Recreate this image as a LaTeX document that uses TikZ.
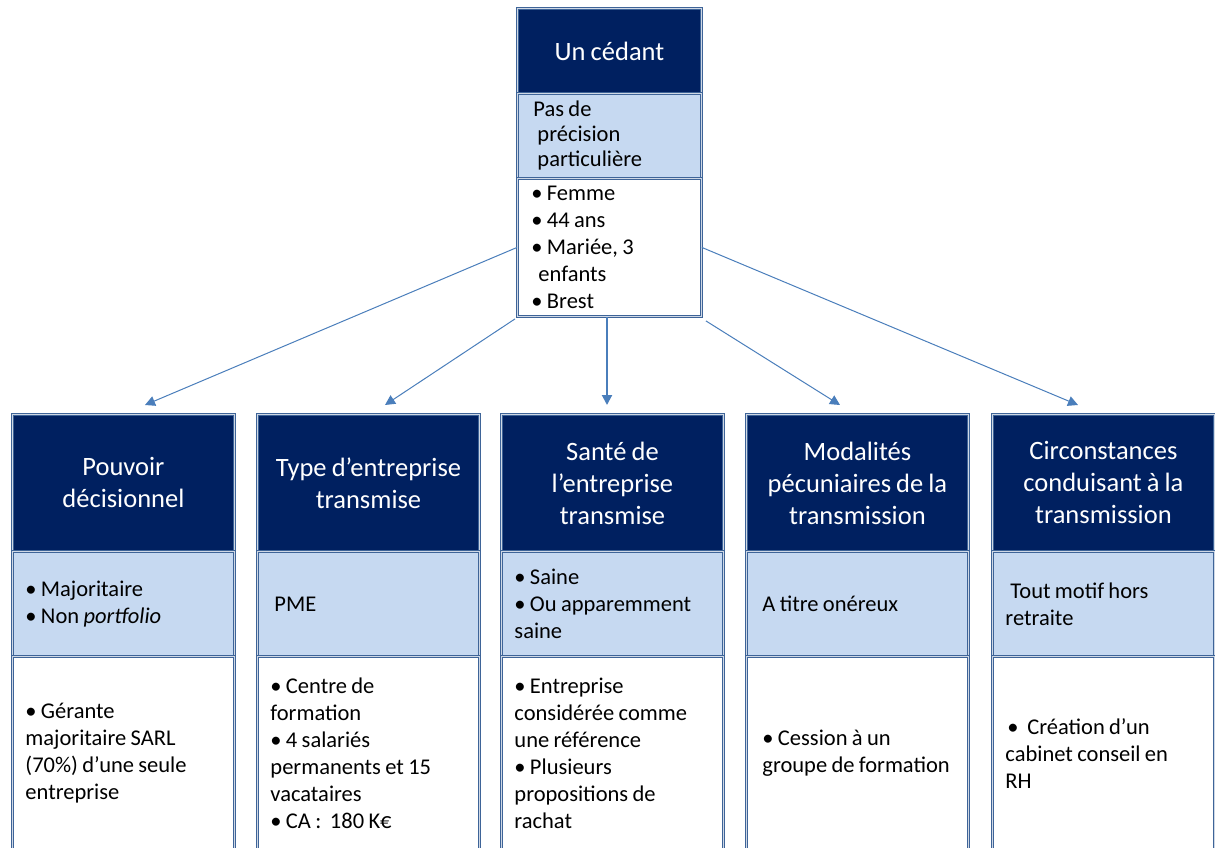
\documentclass[tikz,border=0pt]{standalone}
\usepackage{fontspec}
\setmainfont{Carlito}[WordSpace=0.85]
\usetikzlibrary{arrows.meta}
\definecolor{navy}{HTML}{002060}
\definecolor{paleblue}{HTML}{C6D9F1}
\definecolor{rimblue}{HTML}{3E6498}
\definecolor{linkblue}{HTML}{4A7EBB}
\newcommand{\headsize}{\fontsize{26.5}{32}\selectfont}
\newcommand{\bodysize}{\fontsize{22.5}{27}\selectfont}
\tikzset{
	cell/.style={draw=rimblue, line width=0.9pt, double=white!75!rimblue, double distance=1.2pt, anchor=north west, inner sep=0pt, execute at begin node={\spaceskip=0pt\relax}},
	headcell/.style={cell, fill=navy, text=white, font=\headsize, align=center, minimum width=222pt},
	critcell/.style={cell, fill=paleblue, font=\bodysize, align=left, minimum width=222pt, minimum height=105pt, text width=196pt},
	casecell/.style={cell, fill=white, font=\bodysize, align=left, minimum width=222pt, minimum height=194pt, text width=196pt},
	link/.style={draw=linkblue, line width=1pt, -{Triangle[length=10pt,width=10pt]}}
}
\begin{document}
\begin{tikzpicture}[x=1pt,y=-1pt]
		\useasboundingbox (0,0) rectangle (1215,848);
		\clip (0,0) rectangle (1215,848);
		
		% le cedant
		\node[headcell, minimum width=184pt, minimum height=85pt] (cedHead) at (517,8) {Un cédant};
		\node[critcell, minimum width=184pt, minimum height=85pt, text width=152pt, font=\fontsize{22.5}{25}\selectfont] (cedCrit) at (517,93) {Pas de\\ \hspace{4pt}précision\\ \hspace{4pt}particulière};
		\node[casecell, minimum width=184pt, minimum height=138pt, text width=156pt] (cedCase) at (517,178) {\textbullet{} Femme\\ \textbullet{} 44 ans\\ \textbullet{} Mariée, 3\\ \hspace{7pt}enfants\\ \textbullet{} Brest};
		
		% colonnes
		\node[headcell, minimum height=137pt] (powHead) at (12,414) {Pouvoir\\ décisionnel};
		\node[critcell] (powCrit) at (12,551) {\textbullet{} Majoritaire\\ \textbullet{} Non \textit{portfolio}};
		\node[casecell] (powCase) at (12,656) {\textbullet{} Gérante\\ majoritaire SARL\\ (70\%) d’une seule\\ entreprise};
		
		\node[headcell, minimum height=137pt] (typeHead) at (257,414) {Type d’entreprise\\ transmise};
		\node[critcell] (typeCrit) at (257,551) {\hspace{4pt}PME};
		\node[casecell] (typeCase) at (257,656) {\textbullet{} Centre de\\ formation\\ \textbullet{} 4 salariés\\ permanents et 15\\ vacataires\\ \textbullet{} CA :~~180 K€};
		
		\node[headcell, minimum height=137pt] (healthHead) at (501,414) {Santé de\\ l’entreprise\\ transmise};
		\node[critcell] (healthCrit) at (501,551) {\textbullet{} Saine\\ \textbullet{} Ou apparemment\\ saine};
		\node[casecell] (healthCase) at (501,656) {\textbullet{} Entreprise\\ considérée comme\\ une référence\\ \textbullet{} Plusieurs\\ propositions de\\ rachat};
		
		\node[headcell, minimum height=137pt] (payHead) at (746,414) {Modalités\\ pécuniaires de la\\ transmission};
		\node[critcell] (payCrit) at (746,551) {\hspace{3pt}A titre onéreux};
		\node[casecell] (payCase) at (746,656) {\hspace{3pt}\textbullet{} Cession à un\\ \hspace{3pt}groupe de formation};
		
		\node[headcell, minimum height=137pt] (whyHead) at (992,414) {Circonstances\\ conduisant à la\\ transmission};
		\node[critcell] (whyCrit) at (992,551) {\hspace{5pt}Tout motif hors\\ retraite};
		\node[casecell] (whyCase) at (992,656) {\hspace{2pt}\textbullet{}~~Création d’un\\ cabinet conseil en\\ RH};
		
		% fleches
		\coordinate (powTip) at (145,405);
		\coordinate (typeTip) at (385,405);
		\coordinate (healthTip) at (607,405);
		\coordinate (payTip) at (840,405);
		\coordinate (whyTip) at (1078,405);
		\draw[link] (cedCase.west) -- (powTip);
		\draw[link] ([xshift=-2pt,yshift=-2pt]cedCase.south west) -- (typeTip);
		\draw[link, line width=2pt] (cedCase.south -| healthTip) -- (healthTip);
		\draw[link] ([xshift=4pt,yshift=-4pt]cedCase.south east) -- (payTip);
		\draw[link] (cedCase.east) -- (whyTip);
\end{tikzpicture}
\end{document}
